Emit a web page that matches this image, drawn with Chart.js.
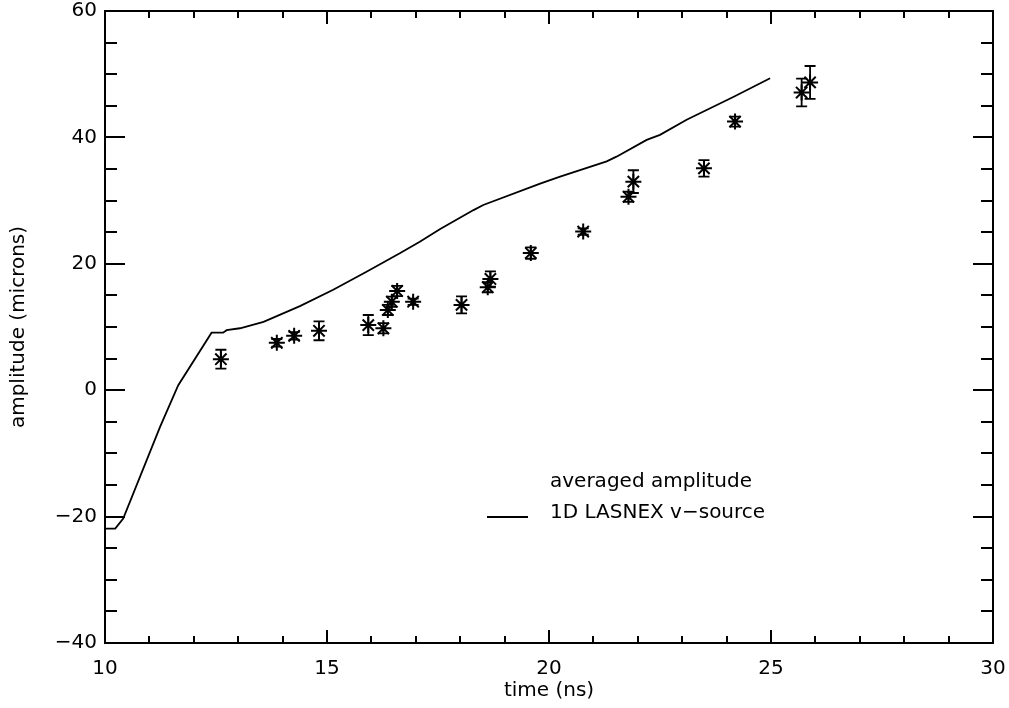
<!DOCTYPE html>
<html>
<head>
<meta charset="utf-8">
<title>averaged amplitude vs time</title>
<script src="https://cdn.jsdelivr.net/npm/chart.js@4/dist/chart.umd.min.js"></script>
<style>
  html, body { margin: 0; padding: 0; background: #fff; }
  #plot { display: block; }
</style>
</head>
<body>
<canvas id="plot" width="1009" height="708"></canvas>
<script>
// ===== data =====

// 1D LASNEX v-source (solid curve)
const lineTime = [10.0, 10.23, 10.41, 11.24, 11.65, 12.4, 12.66, 12.74, 13.04, 13.57, 14.39, 15.14,
                  15.89, 16.64, 17.09, 17.55, 18.3, 18.52, 19.8, 20.25, 21.3, 21.52, 22.2, 22.5,
                  23.1, 24.15, 24.98];
const lineAmp  = [-21.9, -21.9, -20.3, -5.8, 0.8, 9.1, 9.1, 9.5, 9.8, 10.8, 13.3, 15.9,
                  18.75, 21.66, 23.5, 25.5, 28.5, 29.3, 32.7, 33.8, 36.2, 36.95, 39.6, 40.4,
                  42.8, 46.4, 49.35];

// averaged amplitude (asterisks with error bars)
const obsTime = [12.61, 13.87, 14.26, 14.82, 15.93, 16.27, 16.37, 16.46, 16.58, 16.94, 18.03,
                 18.62, 18.68, 19.59, 20.77, 21.79, 21.9, 23.49, 24.19, 25.69, 25.88];
const obsAmp  = [4.9, 7.5, 8.6, 9.4, 10.3, 9.8, 12.7, 14.0, 15.7, 14.0, 13.5,
                 16.3, 17.6, 21.7, 25.1, 30.6, 33.0, 35.1, 42.5, 47.1, 48.7];
const obsErr  = [1.5, 0.6, 0.6, 1.5, 1.6, 0.8, 0.8, 0.8, 0.8, 0.5, 1.35,
                 0.8, 1.2, 0.9, 0.5, 0.8, 1.8, 1.3, 0.8, 2.2, 2.6];

// axes
const xMin = 10, xMax = 30, xMajor = 5, xMinor = 1;
const yMin = -40, yMax = 60, yMajor = 20, yMinor = 5;

const FONT = "'DejaVu Sans', sans-serif";

// ===== IDL風の枠・内向きの目盛り・エラーバー・凡例 =====
const idlPlugin = {
  id: "idlPlugin",
  afterDatasetsDraw(chart) {
    const ctx = chart.ctx;
    const xs = chart.scales.x, ys = chart.scales.y;
    const a = chart.chartArea;

    ctx.save();
    ctx.strokeStyle = "#000";

    // error bars
    ctx.lineWidth = 1.8;
    obsTime.forEach(function (t, i) {
      const px = xs.getPixelForValue(t);
      const top = ys.getPixelForValue(obsAmp[i] + obsErr[i]);
      const bot = ys.getPixelForValue(obsAmp[i] - obsErr[i]);
      ctx.beginPath();
      ctx.moveTo(px, top); ctx.lineTo(px, bot);
      ctx.moveTo(px - 5.5, top); ctx.lineTo(px + 5.5, top);
      ctx.moveTo(px - 5.5, bot); ctx.lineTo(px + 5.5, bot);
      ctx.stroke();
    });

    // frame
    ctx.lineWidth = 2;
    ctx.strokeRect(a.left, a.top, a.right - a.left, a.bottom - a.top);

    // x ticks, bottom and top, pointing inward
    ctx.beginPath();
    for (let v = xMin; v <= xMax; v += xMinor) {
      const px = Math.round(xs.getPixelForValue(v));
      const len = (v % xMajor === 0) ? 13 : 7;
      ctx.moveTo(px, a.bottom); ctx.lineTo(px, a.bottom - len);
      ctx.moveTo(px, a.top);    ctx.lineTo(px, a.top + len);
    }
    // y ticks, left and right
    for (let v = yMin; v <= yMax; v += yMinor) {
      const py = Math.round(ys.getPixelForValue(v));
      const len = (v % yMajor === 0) ? 20 : 12;
      ctx.moveTo(a.left, py);  ctx.lineTo(a.left + len, py);
      ctx.moveTo(a.right, py); ctx.lineTo(a.right - len, py);
    }
    ctx.stroke();

    // legend
    ctx.fillStyle = "#000";
    ctx.font = "20px " + FONT;
    ctx.textBaseline = "alphabetic";
    ctx.textAlign = "left";
    ctx.fillText("averaged amplitude", 550, 487);
    ctx.fillText("1D LASNEX v\u2212source", 550, 518);
    ctx.lineWidth = 1.8;
    ctx.beginPath();
    ctx.moveTo(487, 517); ctx.lineTo(528, 517);
    ctx.stroke();

    ctx.restore();
  }
};

const lineData = lineTime.map((t, i) => ({ x: t, y: lineAmp[i] }));
const obsData  = obsTime.map((t, i) => ({ x: t, y: obsAmp[i] }));

new Chart(document.getElementById("plot"), {
  type: "scatter",
  data: {
    datasets: [
      {
        label: "1D LASNEX v-source",
        data: lineData,
        showLine: true,
        borderColor: "#000",
        borderWidth: 1.8,
        pointRadius: 0,
        tension: 0,
        fill: false
      },
      {
        label: "averaged amplitude",
        data: obsData,
        pointStyle: "star",
        pointRadius: 8,
        borderColor: "#000",
        backgroundColor: "#000",
        borderWidth: 2
      }
    ]
  },
  options: {
    responsive: false,
    animation: false,
    devicePixelRatio: 1,
    layout: { padding: { top: 11, right: 16, left: 0, bottom: 0 } },
    plugins: {
      legend: { display: false },
      tooltip: { enabled: false }
    },
    scales: {
      x: {
        type: "linear",
        min: xMin, max: xMax,
        grid: { display: false, drawTicks: false },
        border: { display: false },
        ticks: {
          stepSize: xMinor,
          autoSkip: false,
          maxRotation: 0,
          padding: 16,
          color: "#000",
          font: { family: FONT, size: 20, lineHeight: 1 },
          callback: v => (v % xMajor === 0 ? String(v) : "")
        },
        title: {
          display: true,
          text: "time (ns)",
          color: "#000",
          font: { family: FONT, size: 20 },
          padding: { top: 0, bottom: 5 }
        },
        afterFit: s => { s.height = 65; s.paddingLeft = 0; s.paddingRight = 0; }
      },
      y: {
        type: "linear",
        min: yMin, max: yMax,
        grid: { display: false, drawTicks: false },
        border: { display: false },
        ticks: {
          stepSize: yMinor,
          autoSkip: false,
          padding: 8,
          color: "#000",
          font: { family: FONT, size: 20, lineHeight: 1 },
          callback: v => (v % yMajor === 0 ? String(v).replace("-", "\u2212") : "")
        },
        title: {
          display: true,
          text: "amplitude (microns)",
          color: "#000",
          font: { family: FONT, size: 20 },
          padding: { top: 7, bottom: 0 }
        },
        afterFit: s => { s.width = 105; s.paddingTop = 0; s.paddingBottom = 0; }
      }
    }
  },
  plugins: [idlPlugin]
});
</script>
</body>
</html>
